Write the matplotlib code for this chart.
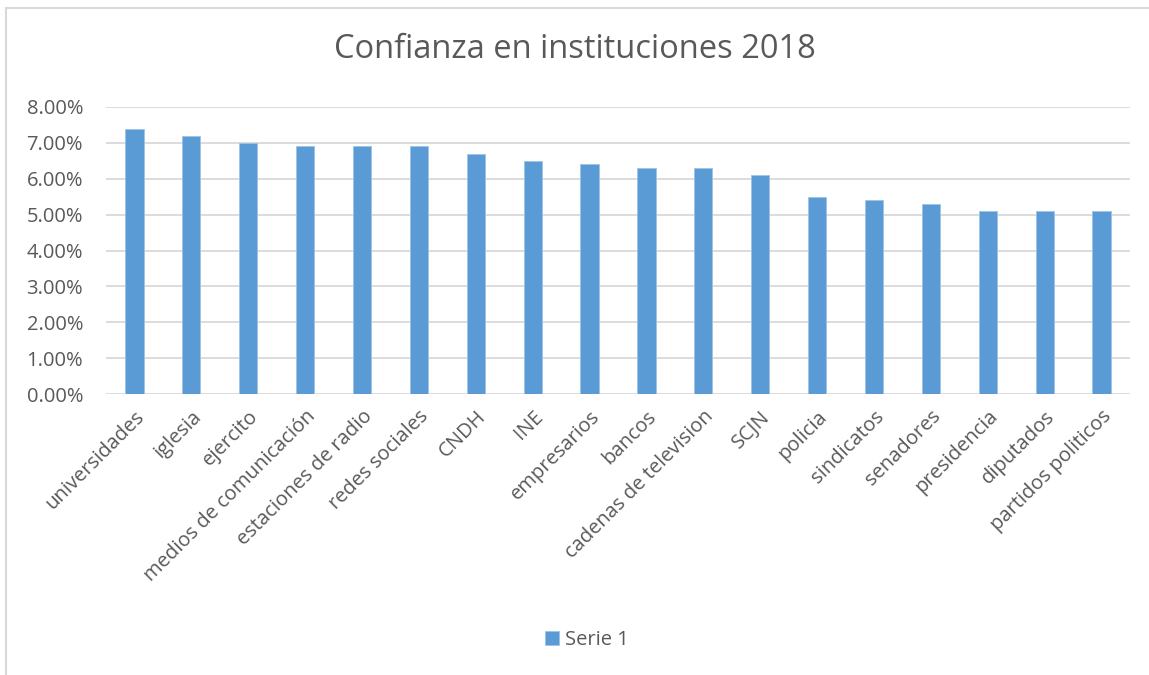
import matplotlib
matplotlib.use("Agg")
import matplotlib.pyplot as plt
from matplotlib.patches import Rectangle
from matplotlib.ticker import FuncFormatter, MultipleLocator

categories = [
    "universidades", "iglesia", "ejercito", "medios de comunicación",
    "estaciones de radio", "redes sociales", "CNDH", "INE", "empresarios",
    "bancos", "cadenas de television", "SCJN", "policia", "sindicatos",
    "senadores", "presidencia", "diputados", "partidos politicos",
]
serie_1 = [7.4, 7.2, 7.0, 6.9, 6.9, 6.9, 6.7, 6.5, 6.4,
           6.3, 6.3, 6.1, 5.5, 5.4, 5.3, 5.1, 5.1, 5.1]

TEXT = "#595959"
BAR = "#5B9BD5"
GRID = "#D9D9D9"

plt.rcParams["font.family"] = ["Open Sans", "DejaVu Sans"]

W, H = 1149, 675
fig = plt.figure(figsize=(W / 100, H / 100), dpi=100)

# chart-area border (only top and left visible in the reference)
fig.patches.append(Rectangle((6 / W, -0.1), 1.2, 1 - 8 / H + 0.1,
                             transform=fig.transFigure, fill=False,
                             edgecolor=GRID, linewidth=1.5))

ax = fig.add_axes([106 / W, 1 - 394 / H, (1130 - 106) / W, (394 - 107) / H])

x = range(len(categories))
ax.bar(x, serie_1, width=0.32, color=BAR, edgecolor="#9DC3E6",
       linewidth=0.6, label="Serie 1", zorder=2)

ax.set_xlim(-0.5, len(categories) - 0.5)
ax.set_ylim(0, 8)
ax.yaxis.set_major_locator(MultipleLocator(1))
ax.yaxis.set_major_formatter(FuncFormatter(lambda v, p: f"{v:.2f}%"))
ax.grid(axis="y", color=GRID, linewidth=1.3, zorder=0)
ax.set_axisbelow(True)
for s in ax.spines.values():
    s.set_visible(False)
ax.tick_params(axis="both", length=0, colors=TEXT)
ax.tick_params(axis="y", pad=16.5, labelsize=14.5)

ax.set_xticks(list(x))
ax.set_xticklabels(categories, rotation=45, ha="right",
                   rotation_mode="anchor", fontsize=14.5, color=TEXT)
ax.tick_params(axis="x", pad=9)

fig.text(0.5, 1 - 50 / H, "Confianza en instituciones 2018",
         ha="center", va="center", fontsize=23.5, color=TEXT)

fig.legend(loc="center", bbox_to_anchor=(587 / W, 1 - 640 / H),
           frameon=False, fontsize=14.5, labelcolor=TEXT,
           handlelength=0.7, handleheight=0.7, handletextpad=0.3)

fig.savefig("out.png", dpi=100)
